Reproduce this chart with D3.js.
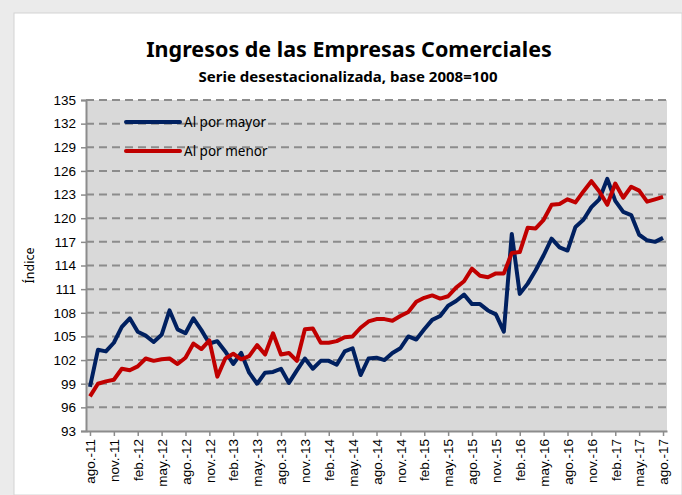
<!DOCTYPE html>
<html>
<head>
<meta charset="utf-8">
<script src="https://cdn.jsdelivr.net/npm/d3@7"></script>
<style>
  body { margin: 0; background: #ebebeb; }
  svg { display: block; font-family: "Noto Sans", "Open Sans", sans-serif; }
</style>
</head>
<body>
<div id="chart"></div>
<script>
var width = 682;
var height = 495;

// meses ago-11 .. ago-17
var mesesAbr = ["ene.", "feb.", "mar.", "abr.", "may.", "jun.", "jul.", "ago.", "sep.", "oct.", "nov.", "dic."];
var meses = [];
for (var k = 0; k < 73; k++) {
  var m = (7 + k) % 12;
  var a = 11 + Math.floor((7 + k) / 12);
  meses.push(mesesAbr[m] + "-" + a);
}

var alPorMayor = [
  98.6, 103.3, 103.1, 104.2, 106.2, 107.3, 105.6, 105.1, 104.3, 105.2,
  108.3, 105.9, 105.4, 107.3, 105.8, 104.1, 104.4, 103.1, 101.5, 102.9,
  100.4, 99.0, 100.4, 100.5, 100.9, 99.1, 100.7, 102.2, 100.9, 101.9,
  101.9, 101.4, 103.1, 103.5, 100.1, 102.2, 102.3, 102.0, 102.9, 103.5,
  105.0, 104.6, 105.9, 107.1, 107.6, 108.9, 109.5, 110.3, 109.1, 109.1,
  108.3, 107.8, 105.6, 118.0, 110.4, 111.7, 113.4, 115.3, 117.4, 116.3,
  115.9, 118.9, 119.8, 121.4, 122.4, 125.0, 122.2, 120.8, 120.4, 117.9,
  117.2, 117.0, 117.5
];

var alPorMenor = [
  97.4, 99.0, 99.3, 99.5, 100.9, 100.7, 101.2, 102.2, 101.9, 102.1,
  102.2, 101.5, 102.3, 104.1, 103.4, 104.5, 99.9, 102.2, 102.8, 102.1,
  102.5, 103.9, 102.7, 105.4, 102.7, 102.9, 101.9, 105.9, 106.0, 104.2,
  104.2, 104.4, 104.9, 105.0, 106.1, 106.9, 107.2, 107.2, 107.0, 107.6,
  108.1, 109.4, 109.9, 110.2, 109.8, 110.1, 111.2, 112.0, 113.6, 112.7,
  112.5, 113.0, 113.0, 115.6, 115.7, 118.8, 118.7, 119.8, 121.7, 121.8,
  122.4, 122.0, 123.4, 124.7, 123.4, 121.7, 124.4, 122.6, 124.0, 123.5,
  122.1, 122.4, 122.7
];

var yTicks = [93, 96, 99, 102, 105, 108, 111, 114, 117, 120, 123, 126, 129, 132, 135];

var series = [
  {name: "Al por mayor", values: alPorMayor, color: "#002060"},
  {name: "Al por menor", values: alPorMenor, color: "#C00000"}
];

var margin = {top: 100, right: 15, bottom: 64, left: 86};
var w = width - margin.left - margin.right;
var h = height - margin.top - margin.bottom;

var svg = d3.select("#chart")
  .append("svg")
    .attr("width", width)
    .attr("height", height);

// chart box
svg.append("rect")
  .attr("x", 14).attr("y", 13)
  .attr("width", width - 14).attr("height", height - 13)
  .attr("fill", "#fff")
  .attr("stroke", "#d4d4d4");

svg.append("text")
  .attr("x", 349).attr("y", 57)
  .attr("text-anchor", "middle")
  .style("font-size", "21.5px")
  .style("font-weight", "bold")
  .text("Ingresos de las Empresas Comerciales");

svg.append("text")
  .attr("x", 348).attr("y", 82)
  .attr("text-anchor", "middle")
  .style("font-size", "15px")
  .style("font-weight", "bold")
  .text("Serie desestacionalizada, base 2008=100");

var g = svg.append("g")
  .attr("transform", "translate(" + margin.left + "," + margin.top + ")");

var x = d3.scalePoint()
  .domain(meses)
  .range([0, w])
  .padding(0.5);

var y = d3.scaleLinear()
  .domain([93, 135])
  .range([h, 0]);

g.append("rect")
  .attr("width", w).attr("height", h)
  .attr("fill", "#d9d9d9");

// grid
g.selectAll(".grid")
  .data(yTicks.slice(1))
  .enter().append("line")
    .attr("x1", 0).attr("x2", w)
    .attr("y1", function(d) { return y(d); })
    .attr("y2", function(d) { return y(d); })
    .attr("stroke", "#8c8c8c")
    .attr("stroke-width", 2)
    .attr("stroke-dasharray", "8,5");

// y axis
var yAxis = g.append("g")
  .call(d3.axisLeft(y).tickValues(yTicks).tickSize(5).tickPadding(5));
yAxis.select(".domain").attr("stroke", "#8c8c8c").attr("stroke-width", 2);
yAxis.selectAll(".tick line").attr("stroke", "#8c8c8c").attr("stroke-width", 1.5);
yAxis.selectAll("text").style("font-size", "13.5px").attr("fill", "#000");

// x axis
var xAxis = g.append("g")
  .attr("transform", "translate(0," + h + ")")
  .call(d3.axisBottom(x)
    .tickValues(meses.filter(function(d, i) { return i % 3 === 0; }))
    .tickSize(5).tickSizeOuter(0));
xAxis.select(".domain").attr("stroke", "#8c8c8c").attr("stroke-width", 2);
xAxis.selectAll(".tick line").attr("stroke", "#8c8c8c").attr("stroke-width", 1.5);
xAxis.selectAll("text")
  .style("font-size", "13.5px")
  .attr("fill", "#000")
  .attr("transform", "rotate(-90)")
  .attr("text-anchor", "end")
  .attr("x", -8)
  .attr("y", 0)
  .attr("dy", "0.35em");

svg.append("text")
  .attr("transform", "translate(34," + (margin.top + h / 2) + ") rotate(-90)")
  .attr("text-anchor", "middle")
  .style("font-size", "12.5px")
  .text("Índice");

var line = d3.line()
  .x(function(d, i) { return x(meses[i]); })
  .y(function(d) { return y(d); });

g.selectAll(".serie")
  .data(series)
  .enter().append("path")
    .attr("d", function(d) { return line(d.values); })
    .attr("fill", "none")
    .attr("stroke", function(d) { return d.color; })
    .attr("stroke-width", 4)
    .attr("stroke-linejoin", "round");

// legend
var legend = g.selectAll(".legend")
  .data(series)
  .enter().append("g")
    .attr("transform", function(d, i) { return "translate(40," + (22 + i * 29) + ")"; });

legend.append("line")
  .attr("x1", 0).attr("x2", 54)
  .attr("stroke", function(d) { return d.color; })
  .attr("stroke-width", 4)
  .attr("stroke-linecap", "round");

legend.append("text")
  .attr("x", 58).attr("dy", "0.35em")
  .style("font-size", "13.5px")
  .text(function(d) { return d.name; });
</script>
</body>
</html>
